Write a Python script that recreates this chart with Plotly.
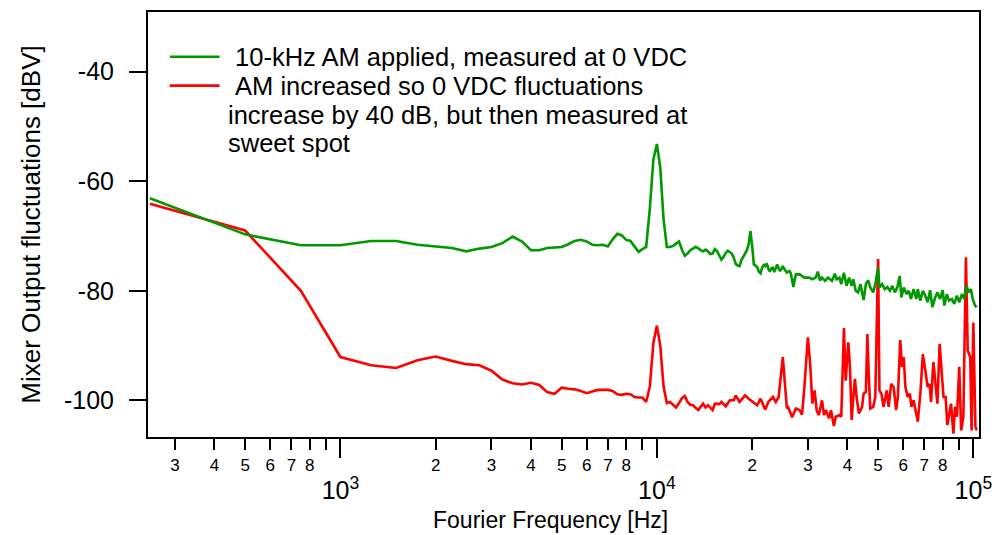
import plotly.graph_objects as go
import math

# ---------------- data ----------------
green_freq = [
    250, 500, 750, 1000, 1250, 1500, 1750, 2000, 2250, 2500,
    2750, 3000, 3250, 3500, 3750, 4000, 4250, 4500, 4750, 5000,
    5250, 5500, 5750, 6000, 6250, 6500, 6750, 7000, 7250, 7500,
    7750, 8000, 8250, 8500, 8750, 9000, 9250, 9500, 9750, 10000,
    10250, 10500, 10750, 11000, 11250, 11500, 11750, 12000, 12250, 12500,
    12750, 13000, 13250, 13500, 13750, 14000, 14250, 14500, 14750, 15000,
    15250, 15500, 15750, 16000, 16250, 16500, 16750, 17000, 17250, 17500,
    17750, 18000, 18250, 18500, 18750, 19000, 19250, 19500, 19750, 20000,
    20250, 20500, 20750, 21000, 21250, 21500, 21750, 22000, 22250, 22500,
    22750, 23000, 23250, 23500, 23750, 24000, 24250, 24500, 24750, 25000,
    25250, 25500, 25750, 26000, 26250, 26500, 26750, 27000, 27250, 27500,
    28250, 29250, 30250, 31000, 31750, 32250, 32750, 33250, 34000, 34750,
    35750, 36500, 37000, 37750, 38250, 39000, 39750, 40500, 41250, 41750,
    42500, 43250, 44000, 45000, 45750, 46500, 47250, 48250, 49000, 50000,
    50500, 51500, 52500, 53500, 54500, 55500, 56500, 57500, 58500, 59250,
    60250, 61500, 62500, 63500, 64750, 66000, 66750, 68000, 69250, 70500,
    71750, 73000, 74250, 75750, 77000, 78500, 80000, 81000, 82500, 83750,
    85500, 87000, 88750, 90250, 92000, 93500, 95250, 96500, 98250, 99500,
    101250, 102500,
]
green_db = [
    -63.1, -69.7, -71.7, -71.7, -70.9, -70.9, -71.6, -71.9, -72.2, -72.8,
    -72.3, -72.0, -71.3, -70.1, -71.0, -72.6, -72.6, -72.2, -72.1, -72.0,
    -71.5, -70.9, -70.7, -71.0, -71.6, -71.7, -71.6, -71.9, -70.6, -69.6,
    -69.9, -70.7, -70.9, -72.0, -72.9, -72.4, -72.0, -65.0, -56.0, -53.2,
    -57.5, -67.0, -72.0, -72.0, -71.8, -71.4, -71.0, -72.5, -73.6, -73.2,
    -72.6, -72.3, -72.0, -72.2, -72.6, -72.8, -72.5, -72.8, -73.3, -73.2,
    -72.4, -72.8, -73.5, -74.3, -73.8, -73.1, -72.7, -72.9, -73.2, -74.0,
    -75.1, -75.4, -75.5, -74.4, -73.7, -73.2, -72.6, -71.5, -69.1, -71.8,
    -75.2, -75.4, -75.7, -76.5, -76.8, -75.8, -75.3, -75.5, -75.0, -76.0,
    -76.5, -75.9, -75.8, -76.6, -75.8, -75.2, -75.9, -76.4, -76.0, -75.5,
    -76.0, -76.5, -76.7, -76.5, -76.4, -76.8, -78.5, -79.3, -78.0, -77.0,
    -77.0, -77.6, -77.6, -77.9, -77.6, -76.5, -78.1, -77.6, -78.2, -77.6,
    -78.2, -76.9, -77.9, -77.6, -78.8, -76.7, -79.1, -77.6, -79.1, -77.9,
    -80.0, -80.3, -78.8, -81.7, -78.8, -78.1, -79.4, -80.3, -78.8, -75.8,
    -79.4, -78.8, -79.7, -79.3, -80.0, -79.1, -80.3, -79.4, -77.3, -81.2,
    -79.4, -80.6, -80.0, -81.5, -79.7, -81.5, -79.7, -81.8, -80.0, -80.9,
    -82.1, -79.9, -83.0, -81.2, -80.3, -81.5, -79.9, -82.7, -80.6, -81.8,
    -81.5, -82.4, -80.9, -82.1, -80.6, -81.5, -79.1, -80.3, -79.7, -81.5,
    -82.7, -83.0,
]

red_freq = [
    250, 500, 750, 1000, 1250, 1500, 1750, 2000, 2250, 2500,
    2750, 3000, 3250, 3500, 3750, 4000, 4250, 4500, 4750, 5000,
    5250, 5500, 5750, 6000, 6250, 6500, 6750, 7000, 7250, 7500,
    7750, 8000, 8250, 8500, 8750, 9000, 9250, 9500, 9750, 10000,
    10250, 10500, 10750, 11000, 11250, 11500, 11750, 12000, 12250, 12500,
    12750, 13000, 13500, 14000, 14250, 14500, 15000, 15250, 15750, 16000,
    16500, 17000, 17500, 17750, 18250, 19000, 19500, 20750, 21250, 22000,
    22500, 23250, 23750, 24250, 25000, 25500, 25750, 26000, 26750, 27500,
    28250, 28750, 29250, 30000, 30500, 31000, 31500, 32000, 32500, 33250,
    33750, 34250, 35000, 35500, 36250, 36750, 37750, 38250, 39000, 39500,
    40250, 40750, 41250, 41750, 42250, 42750, 43500, 44500, 45000, 45750,
    46250, 46750, 47250, 48250, 49000, 50000, 50500, 51250, 52000, 53250,
    54000, 55000, 56000, 57000, 57750, 58750, 59500, 60250, 61000, 62000,
    63000, 63750, 64750, 66000, 66750, 68000, 69250, 70500, 71750, 72750,
    73500, 74750, 76000, 77000, 78250, 79500, 80500, 81750, 82750, 84000,
    85000, 86500, 87500, 88750, 90250, 91500, 93000, 94750, 96000, 97750,
    98750, 100000, 101500, 102500,
]
red_db = [
    -64.1, -69.0, -80.0, -92.1, -93.6, -94.1, -92.7, -92.0, -92.8, -93.4,
    -93.6, -94.6, -96.2, -96.9, -97.1, -96.8, -97.2, -98.5, -98.8, -97.7,
    -97.9, -98.0, -98.3, -98.7, -98.4, -98.1, -98.1, -98.1, -98.3, -98.9,
    -99.0, -98.8, -98.9, -99.4, -99.5, -99.5, -100.3, -97.5, -89.5, -86.4,
    -90.0, -97.5, -100.5, -100.3, -100.8, -101.3, -100.5, -99.6, -99.2, -100.3,
    -100.8, -100.9, -101.8, -100.6, -101.3, -100.9, -101.8, -100.6, -100.7, -100.3,
    -101.1, -100.0, -100.0, -99.1, -100.3, -99.1, -99.7, -100.9, -99.7, -101.7,
    -100.3, -99.4, -100.3, -99.4, -92.1, -97.6, -101.5, -101.3, -103.1, -101.5,
    -101.8, -102.6, -97.6, -88.5, -93.3, -100.6, -98.2, -101.9, -102.7, -100.0,
    -102.7, -101.8, -103.3, -101.8, -104.7, -103.0, -102.7, -103.0, -86.8, -96.4,
    -89.4, -93.9, -103.6, -99.4, -96.1, -99.4, -102.4, -101.2, -98.8, -98.5,
    -87.9, -95.8, -101.5, -101.2, -99.4, -74.2, -98.2, -98.8, -101.2, -98.2,
    -101.2, -97.0, -97.6, -101.8, -99.4, -89.0, -93.9, -92.1, -97.6, -99.4,
    -98.8, -101.2, -100.0, -102.4, -103.9, -98.8, -91.6, -94.5, -97.6, -97.0,
    -100.3, -93.0, -98.2, -100.6, -89.7, -95.5, -99.4, -99.4, -104.5, -102.4,
    -100.6, -106.1, -101.2, -103.0, -93.9, -105.5, -103.0, -73.9, -90.9, -92.1,
    -105.5, -85.8, -104.8, -105.5,
]

labeled_tick_vals = [300, 400, 500, 600, 700, 800,
                     2000, 3000, 4000, 5000, 6000, 7000, 8000,
                     20000, 30000, 40000, 50000, 60000, 70000, 80000]
labeled_tick_text = ["3", "4", "5", "6", "7", "8",
                     "2", "3", "4", "5", "6", "7", "8",
                     "2", "3", "4", "5", "6", "7", "8"]
unlabeled_tick_vals = [900, 9000, 90000]
decade_tick_vals = [1000, 10000, 100000]
decade_tick_text = ["10<sup>3</sup>", "10<sup>4</sup>", "10<sup>5</sup>"]
y_tick_vals = [-100, -80, -60, -40]
y_tick_text = ["-100", "-80", "-60", "-40"]

x_title = "Fourier Frequency [Hz]"
y_title = "Mixer Output fluctuations [dBV]"
legend_lines = [
    "\u00a010-kHz AM applied, measured at 0 VDC",
    "\u00a0AM increased so 0 VDC fluctuations",
    "increase by 40 dB, but then measured at",
    "sweet spot",
]

x_range_hz = [246.6, 104200]
y_range = [-106.7, -29.1]

GREEN = "#009900"
RED = "#ff0000"
FONT = "Liberation Sans, Arial, sans-serif"

# ---------------- figure ----------------
W, H = 1002, 535
ML, MR, MT, MB = 148, 18, 10, 98
PW, PH = W - ML - MR, H - MT - MB


def px_x(p):
    return (p - ML) / PW


def px_y(p):
    return (H - MB - p) / PH


fig = go.Figure()
fig.add_trace(go.Scatter(x=red_freq, y=red_db, mode="lines",
                         line=dict(color=RED, width=2.6),
                         name=legend_lines[1].strip(), xaxis="x", yaxis="y",
                         showlegend=False))
fig.add_trace(go.Scatter(x=green_freq, y=green_db, mode="lines",
                         line=dict(color=GREEN, width=2.6),
                         name=legend_lines[0].strip(), xaxis="x2", yaxis="y",
                         showlegend=False))

xr = [math.log10(v) for v in x_range_hz]

fig.update_layout(
    width=W, height=H,
    margin=dict(l=ML, r=MR, t=MT, b=MB, pad=0),
    paper_bgcolor="white", plot_bgcolor="white",
    font=dict(family=FONT, color="black", size=25),
    xaxis=dict(
        type="log", range=xr, showgrid=False, zeroline=False,
        showline=True, linecolor="black", linewidth=2, mirror=True,
        ticks="outside", ticklen=11, tickwidth=2, tickcolor="black",
        tickmode="array", tickvals=labeled_tick_vals, ticktext=labeled_tick_text,
        tickfont=dict(size=17), ticklabelstandoff=1,
        minor=dict(tickmode="array", tickvals=unlabeled_tick_vals,
                   ticks="outside", ticklen=11, tickwidth=2, tickcolor="black",
                   showgrid=False),
    ),
    xaxis2=dict(
        type="log", range=xr, overlaying="x", anchor="y", side="bottom",
        showgrid=False, zeroline=False, showline=False,
        ticks="outside", ticklen=20, tickwidth=2, tickcolor="black",
        tickmode="array", tickvals=decade_tick_vals, ticktext=decade_tick_text,
        tickfont=dict(size=25), ticklabelstandoff=11,
    ),
    yaxis=dict(
        range=y_range, showgrid=False, zeroline=False,
        showline=True, linecolor="black", linewidth=2, mirror=True,
        ticks="outside", ticklen=17, tickwidth=2, tickcolor="black",
        tickmode="array", tickvals=y_tick_vals, ticktext=y_tick_text,
        tickfont=dict(size=25), ticklabelstandoff=10,
        title=dict(text=y_title, font=dict(size=26), standoff=16),
    ),
    showlegend=False,
)

# x-axis title (placed to match the reference, slightly left of centre)
fig.add_annotation(xref="paper", yref="paper", x=px_x(553), y=px_y(520),
                   xanchor="center", yanchor="middle", text=x_title,
                   showarrow=False, font=dict(size=23))

# legend drawn inside plot area (top-left)
legend_y = [55, 84, 113, 142]
for yy, col in zip(legend_y[:2], [GREEN, RED]):
    fig.add_shape(type="line", xref="paper", yref="paper",
                  x0=px_x(170), x1=px_x(220), y0=px_y(yy), y1=px_y(yy),
                  line=dict(color=col, width=2.6))
for yy, txt in zip(legend_y, legend_lines):
    fig.add_annotation(xref="paper", yref="paper", x=px_x(226), y=px_y(yy),
                       xanchor="left", yanchor="middle", text=txt,
                       showarrow=False, font=dict(size=25.5))

fig.write_html("out.html")
